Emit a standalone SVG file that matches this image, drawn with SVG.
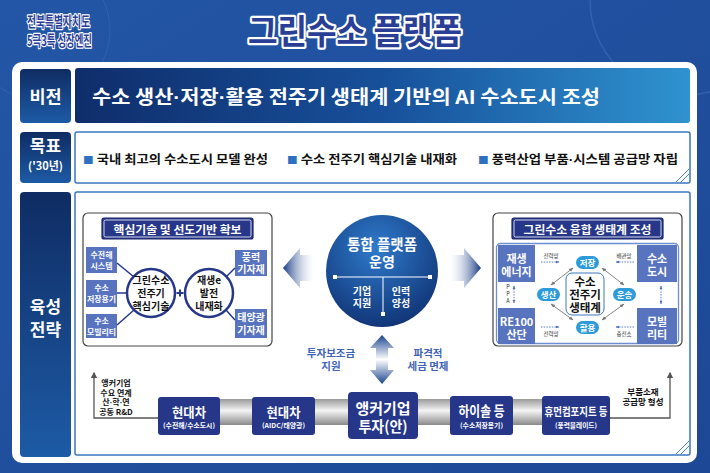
<svg xmlns="http://www.w3.org/2000/svg" width="710" height="473" viewBox="0 0 710 473">
<defs>
<style>
text{font-family:"Noto Sans CJK KR","Noto Sans",sans-serif;font-weight:700;}
.c{text-anchor:middle}
.w{fill:#fff}
.k{fill:#111}
.d{font-family:"Liberation Sans",sans-serif}
.ttl{fill:#2a3e96;stroke:#fff;stroke-linejoin:round;paint-order:stroke}
.lbl{fill:url(#lbl)}
.navy{fill:#26378a}
.mid{fill:#5874bf}
.ov{fill:#2d9bd9}
.ln{stroke:#26378a;stroke-width:1.5;fill:none}
.ga{stroke:#777;stroke-width:0.9;fill:none;marker-start:url(#ah);marker-end:url(#ah)}
.dt{stroke:#4a6fc0;stroke-width:0.9;stroke-dasharray:1.5 1.2;fill:none}
.tiny{font-size:5.5px;fill:#333;font-weight:400}
.ann{stroke:#555;stroke-width:1.3;fill:none;marker-end:url(#ak)}
.sub{fill:#3f63b5;stroke:#fff;stroke-width:2.2;paint-order:stroke;stroke-linejoin:round;font-size:10.5px}
.deco{stroke:#4a86c8;stroke-width:1;fill:none}
</style>
<linearGradient id="bg" x1="0" y1="0" x2="1" y2="1"><stop offset="0" stop-color="#2356a6"/><stop offset="1" stop-color="#1d4896"/></linearGradient>
<linearGradient id="lbl" x1="0" y1="0" x2="0" y2="1"><stop offset="0" stop-color="#0f2c63"/><stop offset="1" stop-color="#1d5ba6"/></linearGradient>
<linearGradient id="vis" x1="0" y1="0" x2="1" y2="0"><stop offset="0" stop-color="#0f2d6b"/><stop offset="0.5" stop-color="#17509a"/><stop offset="1" stop-color="#2f93d0"/></linearGradient>
<radialGradient id="hub" cx="0.45" cy="0.3" r="0.8"><stop offset="0" stop-color="#2f7bcc"/><stop offset="1" stop-color="#0d2c6c"/></radialGradient>
<linearGradient id="arrL" x1="0" y1="0" x2="1" y2="0"><stop offset="0" stop-color="#163a85"/><stop offset="1" stop-color="#ffffff" stop-opacity="0.2"/></linearGradient>
<linearGradient id="arrR" x1="1" y1="0" x2="0" y2="0"><stop offset="0" stop-color="#163a85"/><stop offset="1" stop-color="#ffffff" stop-opacity="0.2"/></linearGradient>
<linearGradient id="arrV" x1="0" y1="0" x2="0" y2="1"><stop offset="0" stop-color="#1c4590"/><stop offset="0.5" stop-color="#ffffff"/><stop offset="1" stop-color="#1c4590"/></linearGradient>
<linearGradient id="bar" x1="0" y1="0" x2="0" y2="1"><stop offset="0" stop-color="#9a9a9a"/><stop offset="0.45" stop-color="#f4f4f4"/><stop offset="1" stop-color="#8a8a8a"/></linearGradient>
<marker id="ah" viewBox="0 0 10 10" refX="9" refY="5" markerWidth="5" markerHeight="5" orient="auto-start-reverse"><path d="M0 1 L10 5 L0 9 Z" fill="#777"/></marker>
<marker id="ad" viewBox="0 0 10 10" refX="9" refY="5" markerWidth="4" markerHeight="4" orient="auto-start-reverse"><path d="M0 1 L10 5 L0 9 Z" fill="#4a6fc0"/></marker>
<marker id="ak" viewBox="0 0 10 10" refX="8" refY="5" markerWidth="5" markerHeight="6" orient="auto"><path d="M0 0 L10 5 L0 10 Z" fill="#555"/></marker>
</defs>

<!-- background -->
<rect width="710" height="473" fill="url(#bg)"/>
<circle cx="685" cy="0" r="95" fill="none" stroke="#4d7fc8" stroke-opacity="0.4" stroke-width="1.5"/>
<circle cx="40" cy="30" r="70" fill="none" stroke="#4d7fc8" stroke-opacity="0.3" stroke-width="1"/>

<!-- header -->
<g id="header">
<text class="ttl" x="27" y="27" font-size="14.5" stroke-width="2.5" textLength="63" lengthAdjust="spacingAndGlyphs">전북특별자치도</text>
<text class="ttl" x="27" y="46" font-size="14.5" stroke-width="2.5" textLength="65" lengthAdjust="spacingAndGlyphs">5극3특 성장엔진</text>
<text class="ttl" x="248" y="44" font-size="34" font-weight="900" stroke-width="4.5" textLength="214" lengthAdjust="spacingAndGlyphs">그린수소 플랫폼</text>
</g>

<!-- main panel -->
<rect x="12" y="62" width="685" height="401" rx="10" fill="#fff"/>

<!-- vision -->
<g id="vision">
<rect class="lbl" x="20" y="69" width="51" height="54" rx="4"/>
<text class="c w" x="45.5" y="103" font-size="17.5">비전</text>
<rect x="75" y="68" width="615" height="55" rx="3" fill="url(#vis)"/>
<text class="w" x="92" y="104" font-size="19" textLength="508" lengthAdjust="spacingAndGlyphs">수소 생산<tspan class="d">·</tspan>저장<tspan class="d">·</tspan>활용 전주기 생태계 기반의 AI 수소도시 조성</text>
<path class="deco" d="M678 123 L690 110" stroke="#fff"/>
</g>

<!-- goals -->
<g id="goals">
<rect class="lbl" x="20" y="132" width="51" height="51" rx="4"/>
<text class="c w" x="45.5" y="152" font-size="17">목표</text>
<text class="c w" x="45.5" y="170" font-size="11">('30년)</text>
<rect x="75" y="132" width="615" height="51" rx="2" fill="#fff" stroke="#3a78c0" stroke-width="1.5"/>
<text class="k" x="83" y="164" font-size="12.5" textLength="185" lengthAdjust="spacingAndGlyphs"><tspan fill="#2f6fc0" font-size="10">■</tspan> 국내 최고의 수소도시 모델 완성</text>
<text class="k" x="287" y="164" font-size="12.5" textLength="170" lengthAdjust="spacingAndGlyphs"><tspan fill="#2f6fc0" font-size="10">■</tspan> 수소 전주기 핵심기술 내재화</text>
<text class="k" x="478" y="164" font-size="12.5" textLength="200" lengthAdjust="spacingAndGlyphs"><tspan fill="#2f6fc0" font-size="10">■</tspan> 풍력산업 부품<tspan class="d">·</tspan>시스템 공급망 자립</text>
<path class="deco" d="M675 183 L690 168 M680 183 L690 173"/>
</g>

<!-- strategy frame -->
<g id="strategy">
<rect class="lbl" x="20" y="192" width="51" height="265" rx="4"/>
<text class="c w" x="45.5" y="313" font-size="17">육성</text>
<text class="c w" x="45.5" y="336" font-size="17">전략</text>
<rect x="75" y="192" width="615" height="263" rx="2" fill="#fff" stroke="#3a78c0" stroke-width="1.5"/>
<path class="deco" d="M675 455 L690 440 M680 455 L690 445"/>
</g>

<!-- left inner box -->
<g id="core-tech">
<rect x="83" y="213" width="189" height="133" rx="5" fill="#fff" stroke="#444" stroke-width="1.2"/>
<rect x="102" y="218" width="151" height="21" rx="2" fill="#26378a" stroke="#1a2466" stroke-width="1.2"/>
<rect x="104" y="220" width="147" height="17" rx="1.5" fill="none" stroke="#fff" stroke-width="0.8"/>
<text class="c w" x="177.5" y="234" font-size="11" textLength="128" lengthAdjust="spacingAndGlyphs">핵심기술 및 선도기반 확보</text>
</g>
<g id="lc-box1"><rect class="mid" x="86" y="247" width="31" height="26"/><text class="c w" x="101.5" y="258" font-size="8">수전해</text><text class="c w" x="101.5" y="269" font-size="8">시스템</text></g>
<g id="lc-box2"><rect class="mid" x="86" y="280" width="31" height="27"/><text class="c w" x="101.5" y="291" font-size="8">수소</text><text class="c w" x="101.5" y="302" font-size="7.5" textLength="29" lengthAdjust="spacingAndGlyphs">저장용기</text></g>
<g id="lc-box3"><rect class="mid" x="86" y="314" width="31" height="24"/><text class="c w" x="101.5" y="324" font-size="8">수소</text><text class="c w" x="101.5" y="335" font-size="7.5" textLength="29" lengthAdjust="spacingAndGlyphs">모빌리티</text></g>
<g id="lc-box4"><rect class="mid" x="235" y="250" width="32" height="26"/><text class="c w" x="251" y="261" font-size="10">풍력</text><text class="c w" x="251" y="273" font-size="10">기자재</text></g>
<g id="lc-box5"><rect class="mid" x="235" y="309" width="32" height="29"/><text class="c w" x="251" y="321" font-size="10">태양광</text><text class="c w" x="251" y="334" font-size="10">기자재</text></g>
<g id="lc-circle1"><circle cx="151" cy="293" r="24" fill="#fff" stroke="#26378a" stroke-width="2.5"/><text class="c k" x="151" y="284" font-size="10">그린수소</text><text class="c k" x="151" y="297" font-size="10">전주기</text><text class="c k" x="151" y="310" font-size="10">핵심기술</text></g>
<g id="lc-circle2"><circle cx="209" cy="293" r="24" fill="#fff" stroke="#26378a" stroke-width="2.5"/><text class="c k" x="209" y="284" font-size="10">재생e</text><text class="c k" x="209" y="297" font-size="10">발전</text><text class="c k" x="209" y="310" font-size="10">내재화</text></g>
<g id="lc-plus"><path d="M176.5 293 H183.5 M180 289.5 V296.5" stroke="#26378a" stroke-width="2"/></g>

<!-- center hub -->
<g id="hub-node">
<circle cx="382" cy="271" r="56" fill="url(#hub)"/>
<text class="c w" x="382" y="250" font-size="15" textLength="70" lengthAdjust="spacingAndGlyphs">통합 플랫폼</text>
<text class="c w" x="382" y="267" font-size="14">운영</text>
<path d="M335 277 H430 M383 277 V314" stroke="#fff" stroke-width="1"/>
<rect x="333" y="275" width="4" height="4" fill="#fff"/><rect x="428" y="275" width="4" height="4" fill="#fff"/><rect x="381" y="312" width="4" height="4" fill="#fff"/>
<text class="c w" x="362" y="295" font-size="10" font-weight="400">기업</text>
<text class="c w" x="362" y="307" font-size="10" font-weight="400">지원</text>
<text class="c w" x="401" y="295" font-size="10" font-weight="400">인력</text>
<text class="c w" x="401" y="307" font-size="10" font-weight="400">양성</text>
</g>

<!-- right inner box -->
<g id="ecosystem">
<rect x="493" y="213" width="189" height="133" rx="5" fill="#fff" stroke="#444" stroke-width="1.2"/>
<rect x="512" y="218" width="151" height="21" rx="2" fill="#26378a" stroke="#1a2466" stroke-width="1.2"/>
<rect x="514" y="220" width="147" height="17" rx="1.5" fill="none" stroke="#fff" stroke-width="0.8"/>
<text class="c w" x="587.5" y="234" font-size="11" textLength="128" lengthAdjust="spacingAndGlyphs">그린수소 융합 생태계 조성</text>
<rect x="496.5" y="243.5" width="182" height="100" rx="4" fill="none" stroke="#6d8fd0" stroke-width="1.3"/>
</g>
<g id="eco-re"><rect class="mid" x="498" y="245" width="37" height="37"/><text class="c w" x="516.5" y="263" font-size="11">재생</text><text class="c w" x="516.5" y="276" font-size="11">에너지</text></g>
<g id="eco-re100"><rect class="mid" x="498" y="308" width="37" height="36"/><text class="c w" x="516.5" y="326" font-size="11">RE100</text><text class="c w" x="516.5" y="339" font-size="11">산단</text></g>
<g id="eco-city"><rect class="mid" x="637" y="245" width="40" height="37"/><text class="c w" x="657" y="263" font-size="11">수소</text><text class="c w" x="657" y="276" font-size="11">도시</text></g>
<g id="eco-mob"><rect class="mid" x="637" y="308" width="40" height="36"/><text class="c w" x="657" y="326" font-size="11">모빌</text><text class="c w" x="657" y="339" font-size="11">리티</text></g>
<g id="eco-center"><rect x="566" y="273" width="38" height="42" rx="6" fill="#fff" stroke="#3a78c0" stroke-width="1"/><text class="c k" x="585" y="286" font-size="11.5">수소</text><text class="c k" x="585" y="299" font-size="11.5">전주기</text><text class="c k" x="585" y="312" font-size="11.5">생태계</text></g>
<g id="eco-store"><rect class="ov" x="576" y="256" width="23" height="13" rx="6.5"/><text class="c w" x="587.5" y="266" font-size="8.5">저장</text></g>
<g id="eco-prod"><rect class="ov" x="537" y="288" width="23" height="13" rx="6.5"/><text class="c w" x="548.5" y="298" font-size="8.5">생산</text></g>
<g id="eco-trans"><rect class="ov" x="613" y="288" width="23" height="13" rx="6.5"/><text class="c w" x="624.5" y="298" font-size="8.5">운송</text></g>
<g id="eco-use"><rect class="ov" x="576" y="321" width="23" height="13" rx="6.5"/><text class="c w" x="587.5" y="331" font-size="8.5">활용</text></g>

<!-- arrows to sides -->
<g id="side-arrows">
<path d="M283 268 L300 248 L300 255 L314 255 L314 281 L300 281 L300 288 Z" fill="url(#arrL)"/>
<path d="M481 268 L464 248 L464 255 L450 255 L450 281 L464 281 L464 288 Z" fill="url(#arrR)"/>
<path d="M382 335 L394 348 L388 348 L388 370 L394 370 L382 384 L370 370 L376 370 L376 348 L370 348 Z" fill="url(#arrV)"/>
</g>

<!-- bottom row -->
<rect x="205" y="399" width="360" height="26" fill="url(#bar)"/>
<g id="b-hyundai1"><rect class="navy" x="158" y="397" width="62" height="38" rx="3"/><text class="c w" x="189" y="417" font-size="13" textLength="34" lengthAdjust="spacingAndGlyphs">현대차</text><text class="c w" x="189" y="428" font-size="6.5" font-weight="400" textLength="52" lengthAdjust="spacingAndGlyphs">(수전해/수소도시)</text></g>
<g id="b-hyundai2"><rect class="navy" x="252" y="397" width="63" height="38" rx="3"/><text class="c w" x="283.5" y="417" font-size="13" textLength="34" lengthAdjust="spacingAndGlyphs">현대차</text><text class="c w" x="283.5" y="428" font-size="6.5" font-weight="400" textLength="43" lengthAdjust="spacingAndGlyphs">(AIDC/태양광)</text></g>
<g id="b-anchor"><rect class="navy" x="348" y="392" width="70" height="47" rx="4"/><text class="c w" x="383" y="414" font-size="15" textLength="55" lengthAdjust="spacingAndGlyphs">앵커기업</text><text class="c w" x="383" y="432" font-size="15" textLength="49" lengthAdjust="spacingAndGlyphs">투자(안)</text></g>
<g id="b-hysol"><rect class="navy" x="450" y="396" width="63" height="39" rx="3"/><text class="c w" x="481.5" y="416" font-size="13.5" textLength="46" lengthAdjust="spacingAndGlyphs">하이솔 등</text><text class="c w" x="481.5" y="428" font-size="6.5" font-weight="400" textLength="43" lengthAdjust="spacingAndGlyphs">(수소저장용기)</text></g>
<g id="b-human"><rect class="navy" x="542" y="396" width="68" height="39" rx="3"/><text class="c w" x="576" y="416" font-size="11" textLength="63" lengthAdjust="spacingAndGlyphs">휴먼컴포지트 등</text><text class="c w" x="576" y="428" font-size="6.5" font-weight="400" textLength="42" lengthAdjust="spacingAndGlyphs">(풍력블레이드)</text></g>

<!-- annotations -->
<g id="ann-left">
<text class="c k" x="116" y="386" font-size="8">앵커기업</text>
<text class="c k" x="116" y="395.5" font-size="8">수요 연계</text>
<text class="c k" x="116" y="405" font-size="8">산<tspan class="d">·</tspan>학<tspan class="d">·</tspan>연</text>
<text class="c k" x="116" y="414.5" font-size="8">공동 R&amp;D</text>
</g>
<g id="ann-right">
<text class="c k" x="643" y="395" font-size="8.5">부품소재</text>
<text class="c k" x="643" y="405" font-size="8.5">공급망 형성</text>
</g>
<g id="ann-center">
<text class="c sub" x="331" y="357">투자보조금</text>
<text class="c sub" x="331" y="370">지원</text>
<text class="c sub" x="428" y="357">파격적</text>
<text class="c sub" x="428" y="370">세금 면제</text>
</g>

<!-- connectors -->
<g id="connectors">
<path class="ln" d="M117 263 L134 277"/>
<path class="ln" d="M117 293 L127 293"/>
<path class="ln" d="M117 325 L134 310"/>
<path class="ln" d="M235 268 L226 277"/>
<path class="ln" d="M235 320 L226 310"/>
<path class="ga" d="M573 268 L551 285"/>
<path class="ga" d="M602 268 L624 285"/>
<path class="ga" d="M551 304 L573 320"/>
<path class="ga" d="M624 304 L602 320"/>
<path class="dt" d="M541 262 H559" marker-end="url(#ad)"/>
<path class="dt" d="M634 262 H616" marker-end="url(#ad)"/>
<path class="dt" d="M541 327 H559" marker-end="url(#ad)"/>
<path class="dt" d="M634 327 H616" marker-end="url(#ad)"/>
<path class="dt" d="M514 286 V303" marker-start="url(#ad)" marker-end="url(#ad)"/>
<path class="dt" d="M661 286 V304" marker-start="url(#ad)" marker-end="url(#ad)"/>
<path class="ann" d="M158 418 H94 V373"/>
<path class="ann" d="M610 418 H670 V373"/>
</g>
<g id="connector-labels">
<text class="c tiny" x="551" y="258">전력망</text>
<text class="c tiny" x="624" y="258">배관망</text>
<text class="c tiny" x="551" y="336">전력망</text>
<text class="c tiny" x="624" y="336">충전소</text>
<text class="c tiny" x="508" y="289">P</text>
<text class="c tiny" x="508" y="296">P</text>
<text class="c tiny" x="508" y="303">A</text>
</g>
</svg>
